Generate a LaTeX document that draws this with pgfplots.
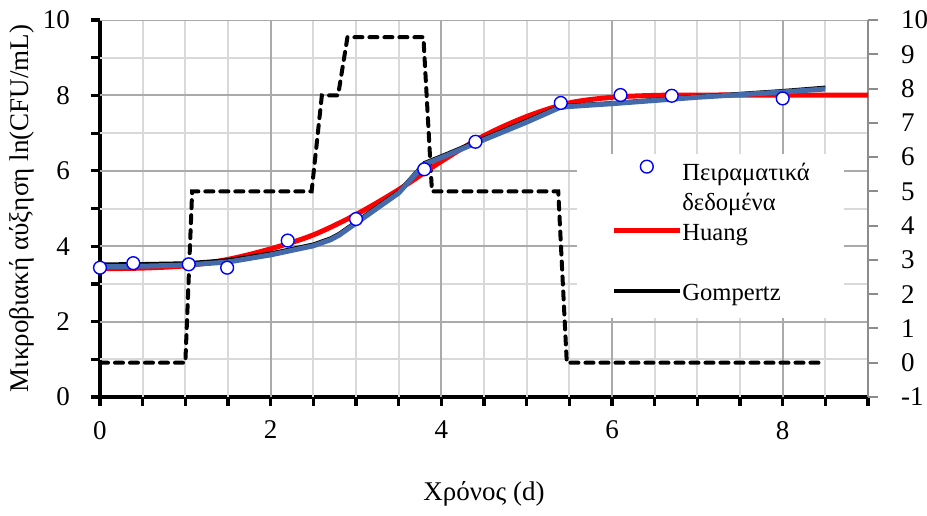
\documentclass[border=0pt]{standalone}
\usepackage{fontspec}
\setmainfont{Liberation Serif}
\usepackage{pgfplots}
\pgfplotsset{compat=1.18}
\definecolor{bluefit}{RGB}{68,106,170}
\definecolor{gridmaj}{RGB}{170,170,170}
\definecolor{gridmin}{RGB}{217,217,217}
\definecolor{raxis}{RGB}{140,140,140}
\pgfplotsset{
  common/.style={scale only axis, width=384pt, height=188.5pt, xmin=0, xmax=9,
    /pgf/number format/assume math mode=true,
    tick label style={font=\fontsize{13.5}{16}\selectfont}},
}
\begin{document}
\begin{tikzpicture}
% axis 1: left axis with grid
\begin{axis}[common, ymin=0, ymax=10,
  axis x line*=bottom, axis y line*=left,
  axis line style={line width=2.4pt, -, black},
  xtick={0,2,4,6,8}, minor xtick={0.5,1,1.5,2.5,3,3.5,4.5,5,5.5,6.5,7,7.5,8.5,9},
  ytick={0,2,4,6,8,10}, minor ytick={1,3,5,7,9},
  tick align=outside, major tick length=4.5pt, minor tick length=4.5pt,
  tick style={draw=black, line width=1.6pt},
  xticklabel style={yshift=-4pt}, yticklabel style={xshift=-7pt},
  every axis x label/.style={at={(axis description cs:0.5,0)}, yshift=-48.5pt, anchor=center, font=\fontsize{13.5}{16}\selectfont},
  every axis y label/.style={at={(axis description cs:0,0.5)}, xshift=-39pt, rotate=90, anchor=center, font=\fontsize{13.5}{16}\selectfont},
  xlabel={Χρόνος (d)}, ylabel={Μικροβιακή αύξηση ln(CFU/mL)},
]
% grid lines (minor, then major)
\addplot[ycomb, draw=gridmin, line width=1pt, mark=none, forget plot] coordinates {
(0.5,10) (1,10) (1.5,10) (2.5,10) (3,10) (3.5,10) (4.5,10) (5,10) (5.5,10) (6.5,10) (7,10) (7.5,10) (8.5,10)};
\addplot[xcomb, draw=gridmin, line width=1pt, mark=none, forget plot] coordinates {
(9,1) (9,3) (9,5) (9,7) (9,9)};
\addplot[ycomb, draw=gridmaj, line width=1pt, mark=none, forget plot] coordinates {
(2,10) (4,10) (6,10) (8,10)};
\addplot[xcomb, draw=gridmaj, line width=1pt, mark=none, forget plot] coordinates {
(9,2) (9,4) (9,6) (9,8) (9,10)};
\end{axis}
% axis 2: right axis with dashed series
\begin{axis}[common, ymin=-1, ymax=10,
  axis x line=none, axis y line*=right,
  axis line style={line width=1pt, -, raxis},
  ytick={-1,0,...,10},
  tick align=outside, major tick length=5pt,
  tick style={draw=raxis, line width=1pt},
  yticklabel style={xshift=8pt},
]
\addplot[black, line width=2pt, dash pattern=on 4pt off 3.5pt, line cap=round] coordinates {
(0,0) (1.0,0) (1.08,5) (2.48,5) (2.6,7.8) (2.79,7.8) (2.9,9.5) (3.79,9.5) (3.89,5) (5.37,5) (5.47,0) (8.46,0)};
\end{axis}
% axis 3: curves and data
\begin{axis}[common, ymin=0, ymax=10, hide axis, clip=false,
  legend style={at={(rel axis cs:0.621,0.645)}, anchor=north west, draw=none, fill=white,
    inner xsep=17pt, inner ysep=3pt, font=\fontsize{12.3}{14}\selectfont,
    nodes={inner sep=0pt, text height=9.5pt, text depth=5.5pt},
    /tikz/every even column/.append style={column sep=3pt}},
  legend cell align=left,
  legend image code/.code={\draw[#1] (0pt,3pt) -- (33pt,3pt);},
]
\addplot[red, line width=2.5pt, smooth, forget plot] coordinates {
(0,3.40) (0.5,3.42) (1.0,3.48) (1.5,3.65) (2.0,3.93) (2.5,4.30) (3.0,4.84) (3.5,5.50) (4.0,6.25) (4.5,6.93) (5.0,7.44) (5.5,7.80) (6.0,7.95) (6.5,8.00) (7.0,8.01) (8.0,8.01) (9.0,8.01)};
\addplot[black, line width=1.5pt, forget plot] coordinates {
(0,3.53) (0.5,3.54) (1.0,3.56) (1.5,3.64) (2.0,3.82) (2.5,4.06) (2.7,4.22) (2.8,4.34) (3.0,4.66) (3.5,5.46) (3.8,6.22) (4.0,6.40) (4.4,6.78) (5.0,7.34) (5.4,7.73) (6.0,7.81) (7.0,7.98) (8.0,8.13) (8.5,8.22)};
\addplot[bluefit, line width=2.5pt, forget plot] coordinates {
(0,3.46) (0.5,3.47) (1.0,3.50) (1.5,3.58) (2.0,3.77) (2.5,4.01) (2.7,4.17) (2.8,4.29) (3.0,4.61) (3.5,5.41) (3.8,6.17) (4.0,6.35) (4.4,6.73) (5.0,7.29) (5.4,7.69) (6.0,7.78) (7.0,7.95) (8.0,8.09) (8.5,8.17)};
\addplot[only marks, mark=*, mark size=3.2pt, mark options={draw=blue, fill=white, line width=0.7pt}, forget plot] coordinates {
(0,3.43) (0.39,3.55) (1.04,3.52) (1.49,3.43) (2.2,4.15) (3.0,4.72) (3.8,6.04) (4.4,6.77) (5.4,7.8) (6.1,8.01) (6.7,7.99) (8.0,7.92)};
\addlegendimage{only marks, mark=*, mark size=3.2pt, mark options={draw=blue, fill=white, line width=0.7pt},
  legend image code/.code={\draw[mark repeat=2, mark phase=2, ##1] plot coordinates {(0pt,5pt) (16.5pt,5pt) (33pt,5pt)};}}
\addlegendentry{Πειραματικά}
\addlegendimage{empty legend}
\addlegendentry{δεδομένα}
\addlegendimage{red, line width=2.5pt}
\addlegendentry{Huang}
\addlegendimage{empty legend}
\addlegendentry{}
\addlegendimage{black, line width=2pt}
\addlegendentry{Gompertz}
\end{axis}
\pgfresetboundingbox
\path (-50pt,-59pt) rectangle (413.5pt,198.5pt);
\end{tikzpicture}
\end{document}
